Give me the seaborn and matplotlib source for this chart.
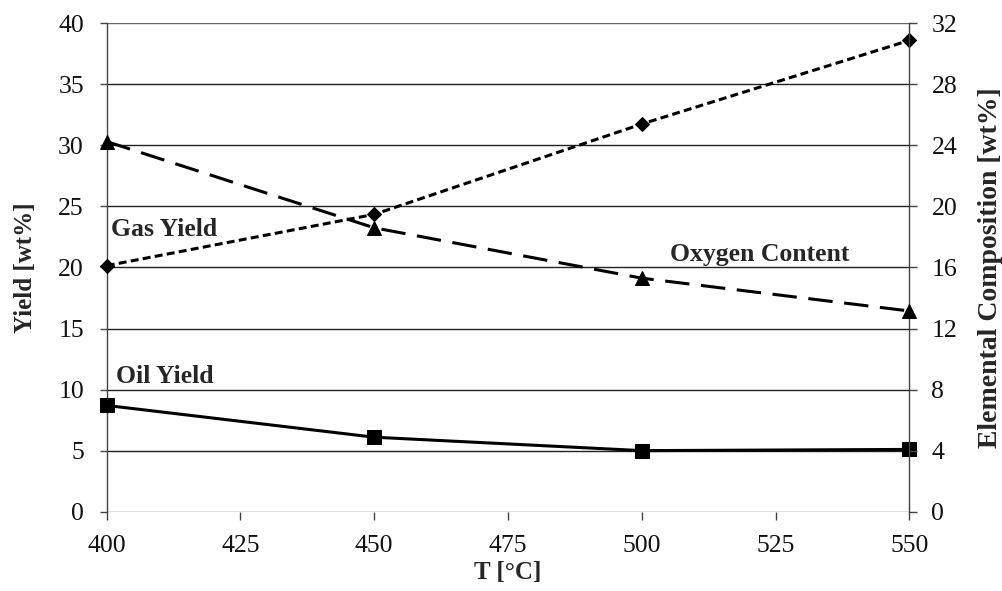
import matplotlib
matplotlib.use("Agg")
import matplotlib.pyplot as plt
import seaborn as sns
import pandas as pd

temperature = [400, 450, 500, 550]
oil_yield = [8.7, 6.1, 5.0, 5.1]
gas_yield = [20.15, 24.35, 31.75, 38.6]
oxygen_content = [24.25, 18.6, 15.3, 13.15]

x_ticks = [400, 425, 450, 475, 500, 525, 550]
left_ticks = [0, 5, 10, 15, 20, 25, 30, 35, 40]
right_ticks = [0, 4, 8, 12, 16, 20, 24, 28, 32]

sns.set_theme(style="white")
plt.rcParams['font.family'] = ['Liberation Serif', 'DejaVu Serif']

df = pd.DataFrame({"T": temperature, "oil": oil_yield, "gas": gas_yield, "oxy": oxygen_content})

fig = plt.figure(figsize=(10.02, 5.91), dpi=100)
ax = fig.add_axes([0.1065, 0.1342, 0.801, 0.8264])
ax2 = ax.twinx()

sns.lineplot(data=df, x="T", y="oil", ax=ax, color="black", linewidth=2.2,
             marker="s", markersize=10, markeredgecolor="black", markerfacecolor="black",
             clip_on=False, zorder=5)
sns.lineplot(data=df, x="T", y="gas", ax=ax, color="black", linewidth=2.2,
             linestyle=(0, (2.6, 1.4)), marker="D", markersize=7,
             markeredgecolor="black", markerfacecolor="black", clip_on=False, zorder=5)
sns.lineplot(data=df, x="T", y="oxy", ax=ax2, color="black", linewidth=2.2,
             linestyle=(0, (8, 3.8)), marker="^", markersize=10,
             markeredgecolor="black", markerfacecolor="black", clip_on=False, zorder=5)

ax.set_xlim(400, 550)
ax.set_ylim(0, 40)
ax2.set_ylim(0, 32)
ax.set_xticks(x_ticks)
ax.set_yticks(left_ticks)
ax2.set_yticks(right_ticks)

for y in left_ticks:
    ax.axhline(y, color="#222222" if 0 < y < 40 else "#666666", linewidth=1.0, zorder=0)

for a in (ax, ax2):
    for s in a.spines.values():
        s.set_visible(False)
ax.spines['left'].set_visible(True)
ax.spines['left'].set_color('#444444')
ax.spines['left'].set_linewidth(1.0)
ax2.spines['right'].set_visible(True)
ax2.spines['right'].set_color('#444444')
ax2.spines['right'].set_linewidth(1.0)

ax.tick_params(axis='x', direction='out', length=5.4, width=1, color='#444444',
               labelsize=18.5, labelcolor='#111111', bottom=True, pad=11.5)
ax.tick_params(axis='y', direction='out', length=5.4, width=1, color='#444444',
               labelsize=18.5, labelcolor='#111111', left=True, pad=11)
ax2.tick_params(axis='y', direction='out', length=5.4, width=1, color='#444444',
                labelsize=18.5, labelcolor='#111111', right=True, pad=10.5)

ax.set_xlabel("T [°C]", fontsize=18, fontweight='bold', labelpad=3)
ax.set_ylabel("Yield [wt%]", fontsize=18, fontweight='bold', labelpad=15)
ax2.set_ylabel("Elemental Composition [wt%]", fontsize=20, fontweight='bold', labelpad=15)

ax.text(400.8, 23.1, "Gas Yield", fontsize=18.5, fontweight='bold', va='center', ha='left')
ax.text(401.8, 11.05, "Oil Yield", fontsize=18.5, fontweight='bold', va='center', ha='left')
ax.text(505.3, 21.1, "Oxygen Content", fontsize=18.5, fontweight='bold', va='center', ha='left')

fig.savefig("out.png", dpi=100, facecolor="white")
